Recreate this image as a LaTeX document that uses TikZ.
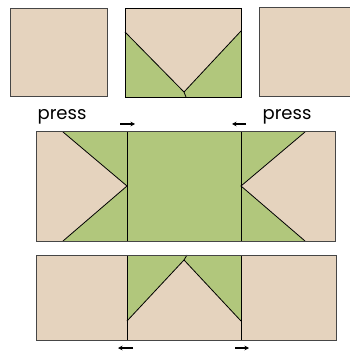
\documentclass[tikz,border=0pt]{standalone}
\usepackage{fontspec}
\setmainfont{Poppins}
\usetikzlibrary{arrows.meta}
\definecolor{pinkfill}{RGB}{229,211,190}
\definecolor{greenfill}{RGB}{177,199,124}
\definecolor{edgegray}{RGB}{70,70,70}
\begin{document}
\begin{tikzpicture}[x=1pt,y=-1pt,
  pinkpatch/.style={fill=pinkfill},
  greenpatch/.style={fill=greenfill},
  seam/.style={draw=black,line width=0.8pt},
  block/.style={draw=edgegray,line width=1pt},
  pressarrow/.style={-{Stealth[length=4.5pt,width=4.5pt]},line width=1.4pt},
  presslabel/.style={font=\fontsize{18}{18}\selectfont,inner sep=0pt,anchor=base}]
\useasboundingbox (0,0) rectangle (349,352);
% ---- top row ----
\fill[pinkpatch] (10,9) rectangle (107,97);
\draw[block] (10,9) rectangle (107,97);
\fill[pinkpatch] (125,8) rectangle (241,97);
\fill[greenpatch] (125,32) -- (184,92) -- (186,97) -- (125,97) -- cycle;
\fill[greenpatch] (241,31) -- (241,97) -- (186,97) -- (184,92) -- cycle;
\draw[seam] (125,32) -- (184,92) -- (186,97);
\draw[seam] (241,31) -- (184,92);
\draw[seam] (125,8) rectangle (241,97);
\fill[pinkpatch] (259,8) rectangle (352,97);
\draw[block] (259,8) rectangle (352,97);
% labels
\node[presslabel] (pressL) at (62,120) {press};
\node[presslabel] (pressR) at (287,120) {press};
% ---- middle row ----
\fill[greenpatch] (36,132) rectangle (335,241);
\fill[pinkpatch] (36,132) -- (63,132) -- (127,186) -- (63,241) -- (36,241) -- cycle;
\fill[pinkpatch] (305,132) -- (335,132) -- (335,241) -- (305,241) -- (241,186) -- cycle;
\draw[seam] (63,132) -- (127,186) -- (63,241);
\draw[seam] (305,132) -- (241,186) -- (305,241);
\draw[seam] (127,132) -- (127,241);
\draw[seam] (241,132) -- (241,241);
\draw[block] (36,132) rectangle (335,241);
\coordinate (a1s) at (120,124); \coordinate (a1e) at (135,124);
\coordinate (a2s) at (246,124); \coordinate (a2e) at (232,124);
\draw[pressarrow] (a1s) -- (a1e);
\draw[pressarrow] (a2s) -- (a2e);
% ---- bottom row ----
\fill[pinkpatch] (36,255) rectangle (336,340);
\fill[greenpatch] (127,255) -- (187,255) -- (184,260) -- (127,321) -- cycle;
\fill[greenpatch] (187,255) -- (241,255) -- (241,321) -- (184,260) -- cycle;
\draw[seam] (127,321) -- (184,260) -- (187,255);
\draw[seam] (184,260) -- (241,321);
\draw[seam] (127,255) -- (127,340);
\draw[seam] (241,255) -- (241,340);
\draw[block] (36,255) rectangle (336,340);
\coordinate (a3s) at (133,348); \coordinate (a3e) at (118,348);
\coordinate (a4s) at (235,348); \coordinate (a4e) at (249,348);
\draw[pressarrow] (a3s) -- (a3e);
\draw[pressarrow] (a4s) -- (a4e);
\end{tikzpicture}
\end{document}
